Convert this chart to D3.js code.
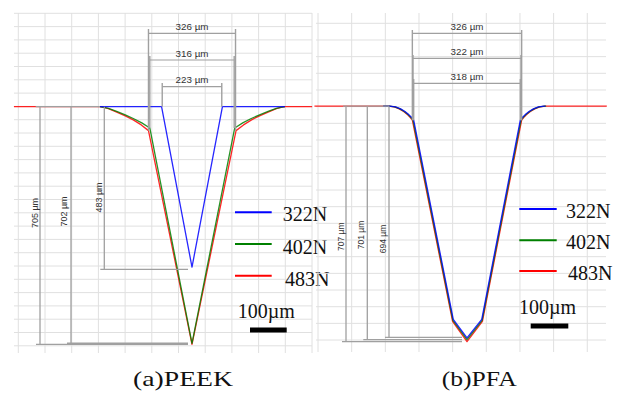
<!DOCTYPE html>
<html><head><meta charset="utf-8">
<script src="https://cdn.jsdelivr.net/npm/d3@7/dist/d3.min.js"></script>
<style>body{margin:0;background:#fff}svg{display:block}</style>
</head><body>
<svg id="c" width="625" height="399"></svg>
<script>
// ---------------- DATA ----------------
const seriesNames = ["322N", "402N", "483N"];
const seriesColors = ["#0000ff", "#008000", "#ff0000"];
const panelCaptions = ["(a)PEEK", "(b)PFA"];
const scaleBarLabel = "100µm";

// Panel (a) PEEK profiles: [x (µm from indent centre), depth (µm)]
const peek322 = [[-345,0],[-114,0],[0,476],[114,0],[348,0]];
const peek402 = [[-345,0],[-330,2],[-313,5],[-282,14],[-250,24],[-220,35],[-188,48],[-158,63],[0,702],
                 [160,63],[190,48],[222,35],[253,24],[285,14],[316,5],[333,2],[348,0]];
const peek483 = [[-667,0],[-345,0],[-330,2],[-313,6],[-282,16],[-250,27],[-220,39],[-190,54],[-163,71],[0,705],
                 [165,71],[193,54],[223,39],[253,27],[285,16],[316,6],[333,2],[348,0],[450,0]];
// Panel (b) PFA profiles
const pfa322 = [[-250,0],[-230,0],[-213,2],[-198,8],[-185,16],[-173,26],[-165,34],[-159,42],[-41,640],[0,696],
                [44,640],[159,42],[165,34],[173,26],[185,16],[198,8],[213,2],[230,0],[234,0]];
const pfa402 = [[-250,0],[-233,0],[-215,2],[-200,8],[-187,16],[-175,26],[-167,34],[-161,42],[-42,643],[0,701],
                [45,643],[161,42],[167,34],[175,26],[187,16],[200,8],[215,2],[233,0],[236,0]];
const pfa483 = [[-455,0],[-235,0],[-217,2],[-202,8],[-189,16],[-177,26],[-169,34],[-163,42],[-43,646],[0,707],
                [46,646],[163,42],[169,34],[177,26],[189,16],[202,8],[217,2],[235,0],[417,0]];

// Dimension annotations (µm)
const peekWidths = [326, 316, 223];
const peekDepths = [705, 702, 483];
const pfaWidths = [326, 322, 318];
const pfaDepths = [707, 701, 694];
const shoulderDepthPeek = [71, 63, 0];
const shoulderDepthPfa = [42, 42, 42];

// ---------------- LAYOUT ----------------
const svg = d3.select("#c");
const gridColor = "#e0e0e0";
const dimColor = "#a0a0a0";
const textColor = "#333";

const panels = [
  { // PEEK
    x: d3.scaleLinear().domain([0, 100]).range([192, 192 + 26.7]),
    y: d3.scaleLinear().domain([0, 100]).range([106.7, 106.7 + 33.7]),
    series: [peek322, peek402, peek483],
    grid: { x0: 18.3, dx: 26.7, nx: 12, y0: 13.3, dy: 13.3, ny: 26, left: 14, right: 312, top: 13, bottom: 353 },
    widths: peekWidths, shoulders: shoulderDepthPeek,
    widthLevels: [33.3, 60, 86.7], widthTops: [29, 56, 83],
    depths: peekDepths, depthX: [40, 71, 104.3], depthTipX: 188, topExt: [35.7, 100],
    depthLabels: [[35, 213], [64, 211.5], [98.5, 197.5]], depthFont: 9,
    legend: { x1: 235, x2: 271.7, ys: [212.3, 244, 275.7], tx: [282.7, 282.7, 285], tb: [220.7, 254, 286] },
    bar: { tx: 237.7, tb: 318, x1: 250, x2: 286.7, y: 330 },
    caption: { x: 133, b: 386, w: 100 }
  },
  { // PFA
    x: d3.scaleLinear().domain([0, 100]).range([467, 467 + 33.53]),
    y: d3.scaleLinear().domain([0, 100]).range([106.2, 106.2 + 33.3]),
    series: [pfa322, pfa402, pfa483],
    grid: { x0: 318, dx: 33.66, nx: 9, y0: 23.3, dy: 16.67, ny: 20, left: 316, right: 606, top: 13, bottom: 352 },
    widths: pfaWidths, shoulders: shoulderDepthPfa,
    widthLevels: [33.3, 58.3, 83.3], widthTops: [30, 55, 79],
    depths: pfaDepths, depthX: [346, 367.3, 389], depthTipX: 462, topExt: [343, 389],
    depthLabels: [[340.7, 236.7], [361, 235], [382.7, 239]], depthFont: 8.5,
    legend: { x1: 519.3, x2: 556.7, ys: [209, 240.3, 271], tx: [566, 566, 568], tb: [218, 248.5, 280] },
    bar: { tx: 519, tb: 313.5, x1: 530.7, x2: 568.3, y: 326 },
    caption: { x: 441.7, b: 386, w: 75 }
  }
];

panels.forEach((p, pi) => {
  const g = svg.append("g");
  const G = p.grid;
  // grid
  const gg = g.append("g").attr("stroke", gridColor).attr("stroke-width", 1);
  gg.selectAll("line.v").data(d3.range(G.nx)).join("line")
    .attr("x1", i => G.x0 + i * G.dx).attr("x2", i => G.x0 + i * G.dx)
    .attr("y1", G.top).attr("y2", G.bottom);
  gg.selectAll("line.h").data(d3.range(G.ny)).join("line")
    .attr("x1", G.left).attr("x2", G.right)
    .attr("y1", j => G.y0 + j * G.dy).attr("y2", j => G.y0 + j * G.dy);

  // profiles: draw red, green, blue (blue on top)
  const line = d3.line().x(d => p.x(d[0])).y(d => p.y(d[1]));
  [2, 1, 0].forEach(si => {
    g.append("path").datum(p.series[si]).attr("d", line)
      .attr("fill", "none").attr("stroke", seriesColors[si])
      .attr("stroke-width", 1.3).attr("stroke-linejoin", "round").attr("opacity", 0.85);
  });

  // width dimensions
  const dg = g.append("g").attr("stroke", dimColor).attr("fill", "none");
  p.widths.forEach((w, i) => {
    const xl = p.x(-w / 2), xr = p.x(w / 2);
    const yl = p.widthLevels[i];
    const yb = p.y(p.shoulders[i]);
    dg.append("line").attr("x1", xl).attr("x2", xr).attr("y1", yl).attr("y2", yl).attr("stroke-width", 1.2);
    [xl, xr].forEach(xx => dg.append("line").attr("x1", xx).attr("x2", xx)
      .attr("y1", p.widthTops[i]).attr("y2", yb).attr("stroke-width", 1.4));
    g.append("text").attr("x", (xl + xr) / 2).attr("y", yl - 3.5)
      .attr("text-anchor", "middle").attr("font-family", "Liberation Sans, Arial, sans-serif")
      .attr("font-size", 9.8).attr("fill", textColor).text(w + " µm");
  });

  // depth dimensions
  const ys = p.y(0);
  dg.append("line").attr("x1", p.topExt[0]).attr("x2", p.topExt[1]).attr("y1", ys).attr("y2", ys)
    .attr("stroke-width", 1.3);
  p.depths.forEach((d, i) => {
    const xx = p.depthX[i], yd = p.y(d);
    dg.append("line").attr("x1", xx).attr("x2", xx).attr("y1", ys).attr("y2", yd).attr("stroke-width", 1.3);
    dg.append("line").attr("x1", xx - 4).attr("x2", p.depthTipX).attr("y1", yd).attr("y2", yd).attr("stroke-width", 1.3);
    const [lx, ly] = p.depthLabels[i];
    g.append("text").attr("transform", `translate(${lx},${ly}) rotate(-90)`)
      .attr("dy", "0.35em").attr("text-anchor", "middle")
      .attr("font-family", "Liberation Sans, Arial, sans-serif").attr("font-size", p.depthFont)
      .attr("fill", textColor).text(d + " µm");
  });

  // legend
  const L = p.legend;
  seriesNames.forEach((name, si) => {
    g.append("line").attr("x1", L.x1).attr("x2", L.x2).attr("y1", L.ys[si]).attr("y2", L.ys[si])
      .attr("stroke", seriesColors[si]).attr("stroke-width", 2);
    g.append("text").attr("x", L.tx[si]).attr("y", L.tb[si])
      .attr("font-family", "Liberation Serif, Times New Roman, serif").attr("font-size", 20)
      .attr("fill", "#111").text(name);
  });

  // scale bar
  const B = p.bar;
  g.append("text").attr("x", B.tx).attr("y", B.tb)
    .attr("font-family", "Liberation Serif, Times New Roman, serif").attr("font-size", 20)
    .attr("fill", "#111").text(scaleBarLabel);
  g.append("line").attr("x1", B.x1).attr("x2", B.x2).attr("y1", B.y).attr("y2", B.y)
    .attr("stroke", "#000").attr("stroke-width", 5);

  // caption
  const C = p.caption;
  g.append("text").attr("x", C.x).attr("y", C.b)
    .attr("font-family", "Liberation Serif, Times New Roman, serif").attr("font-size", 21)
    .attr("textLength", C.w).attr("lengthAdjust", "spacingAndGlyphs")
    .attr("fill", "#111").text(panelCaptions[pi]);
});
</script>
</body></html>
